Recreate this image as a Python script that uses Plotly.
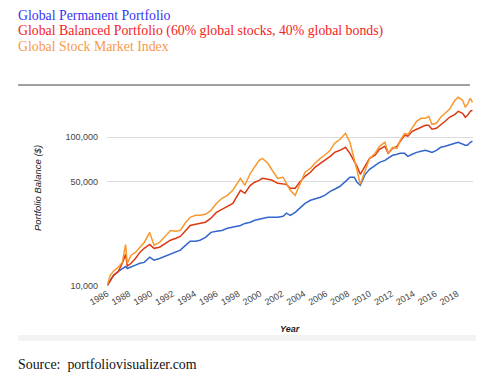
import plotly.graph_objects as go

years = [1986.0, 1986.3, 1986.6, 1987.0, 1987.4, 1987.7, 1987.85, 1988.2, 1988.6, 1989.0,
         1989.4, 1989.9, 1990.3, 1990.8, 1991.3, 1991.8, 1992.3, 1992.7, 1993.2, 1993.6,
         1994.1, 1994.5, 1995.0, 1995.5, 1996.0, 1996.5, 1997.0, 1997.5, 1998.2, 1998.6,
         1999.1, 1999.5, 1999.9, 2000.2, 2000.7, 2001.1, 2001.6, 2002.1, 2002.4, 2002.75,
         2003.2, 2003.6, 2004.1, 2004.6, 2005.0, 2005.5, 2005.9, 2006.4, 2006.8, 2007.3,
         2007.8, 2008.2, 2008.6, 2008.85, 2009.15, 2009.6, 2010.0, 2010.5, 2010.9, 2011.4,
         2011.7, 2012.1, 2012.5, 2012.8, 2013.2, 2013.5, 2013.9, 2014.3, 2014.7, 2015.1,
         2015.4, 2015.7, 2016.1, 2016.5, 2016.9, 2017.3, 2017.8, 2018.1, 2018.5, 2018.75,
         2018.95, 2019.2, 2019.4]

permanent = [10000, 10900, 11800, 12500, 13100, 13500, 13100, 13500, 13800, 14200,
             14400, 15600, 14900, 15300, 15800, 16300, 16800, 17400, 18800, 20000,
             20000, 20300, 21200, 22900, 23300, 23600, 24400, 24800, 25500, 26300,
             26800, 27600, 28000, 28500, 28900, 28900, 28900, 29400, 30800, 29800,
             31200, 33200, 35800, 37600, 38200, 39400, 40600, 43200, 44600, 46700,
             50400, 53700, 53700, 49700, 47400, 56200, 60700, 64600, 67600, 69700,
             71900, 75400, 76600, 77700, 77700, 74200, 76600, 78900, 80200, 81400,
             80200, 78900, 81400, 85300, 86600, 88000, 90700, 92100, 89300, 88000,
             88000, 92100, 93600]

balanced = [10000, 10900, 11800, 12400, 14200, 16300, 13600, 14200, 15300, 16800,
            17900, 19000, 17900, 18200, 19300, 20300, 20900, 21500, 23600, 25500,
            26000, 26300, 26800, 28500, 31200, 32700, 34300, 35800, 43900, 41900,
            47400, 49700, 51200, 52800, 52000, 51200, 48900, 48100, 48100, 45300,
            45300, 49700, 54500, 58000, 62600, 66600, 69700, 74200, 78900, 81400,
            85300, 77700, 68600, 63600, 56200, 64600, 71900, 75400, 82700, 86600,
            77700, 84000, 86600, 93600, 102800, 101200, 109300, 112700, 116200, 119800,
            119800, 112700, 114400, 121700, 127500, 135600, 142000, 148800, 144300, 135600,
            139800, 148800, 151100]

stocks = [10000, 11800, 12600, 13300, 14400, 19000, 14200, 16100, 16800, 18200,
          19600, 22900, 18800, 19600, 21500, 23600, 23300, 23600, 26800, 28900,
          29800, 29800, 30300, 32200, 35800, 38800, 40600, 43900, 52800, 47400,
          57100, 62600, 69700, 71900, 66600, 59800, 52800, 53700, 48900, 43900,
          40600, 47400, 58000, 61700, 66600, 71900, 75400, 81400, 90700, 96500,
          105900, 92100, 71900, 59800, 48100, 59800, 71900, 77700, 86600, 92100,
          77700, 85300, 84000, 95000, 105900, 104000, 116200, 127500, 133500, 133500,
          137700, 121700, 123600, 135600, 144300, 153500, 176300, 184700, 176300, 158300,
          166000, 181800, 171000]

tick_years = list(range(1986, 2019, 2))
tick_labels = [str(y) for y in tick_years]
y_ticks = [10000, 50000, 100000]
y_labels = ["10,000", "50,000", "100,000"]

series_names = ["Global Permanent Portfolio",
                "Global Balanced Portfolio (60% global stocks, 40% global bonds)",
                "Global Stock Market Index"]
line_colors = ["#3366cc", "#dc3912", "#f7992e"]
title_colors = ["#3535f5", "#f52222", "#f79a4a"]

fig = go.Figure()
for vals, name, col in zip([permanent, balanced, stocks], series_names, line_colors):
    fig.add_trace(go.Scatter(x=years, y=vals, mode="lines", name=name,
                             line=dict(color=col, width=1.5), showlegend=False))

# page has an 8px body margin: figure pixel = page pixel - 8
OFF = 8
W, H = 500 - OFF, 379 - OFF
L, R, T, B = 107 - OFF, 473 - OFF, 90 - OFF, 286 - OFF

def px(xp):
    return (xp - OFF - L) / (R - L)

def py(yp):
    return (B - (yp - OFF)) / (B - T)

annotations = []
for i, (txt, col) in enumerate(zip(series_names, title_colors)):
    annotations.append(dict(text=txt, x=px(16), y=py(15 + i * 16), xref="paper", yref="paper",
                            xanchor="left", yanchor="middle", showarrow=False,
                            font=dict(family="Liberation Serif", size=13.8, color=col)))
annotations.append(dict(text="Source:  portfoliovisualizer.com", x=px(16), y=py(364),
                        xref="paper", yref="paper", xanchor="left", yanchor="middle",
                        showarrow=False, font=dict(family="Liberation Serif", size=13.9, color="#111")))
annotations.append(dict(text="<b><i>Year</i></b>", x=0.5, y=py(329), xref="paper", yref="paper",
                        xanchor="center", yanchor="middle", showarrow=False,
                        font=dict(family="Liberation Sans", size=9, color="#222")))
annotations.append(dict(text="<i>Portfolio Balance ($)</i>", x=px(37), y=py(188), xref="paper",
                        yref="paper", xanchor="center", yanchor="middle", textangle=-90,
                        showarrow=False, font=dict(family="Liberation Sans", size=9.5, color="#222")))

shapes = [
    dict(type="line", xref="paper", yref="paper", x0=px(18), x1=px(470), y0=py(85), y1=py(85),
         line=dict(color="#808080", width=1.3)),
    dict(type="rect", xref="paper", yref="paper", x0=px(18), x1=px(476), y0=py(341), y1=py(335),
         fillcolor="#f3f3f3", line=dict(width=0), layer="below"),
]

fig.update_layout(
    width=W, height=H,
    margin=dict(l=L, r=W - R, t=T, b=H - B),
    paper_bgcolor="white", plot_bgcolor="white",
    annotations=annotations, shapes=shapes,
    xaxis=dict(range=[1986.0, 2019.45], tickvals=tick_years, ticktext=tick_labels,
               tickangle=-30, showgrid=False, zeroline=False, showline=False, ticks="",
               tickfont=dict(family="Liberation Sans", size=9, color="#444")),
    yaxis=dict(type="log", range=[4, 4 + (B - T) / 149], tickvals=y_ticks, ticktext=y_labels,
               showgrid=True, gridcolor="#dcdcdc", gridwidth=1, zeroline=False, showline=False,
               ticks="", ticklabelstandoff=8,
               tickfont=dict(family="Liberation Sans", size=9, color="#444")),
)

fig.write_html("out.html")
